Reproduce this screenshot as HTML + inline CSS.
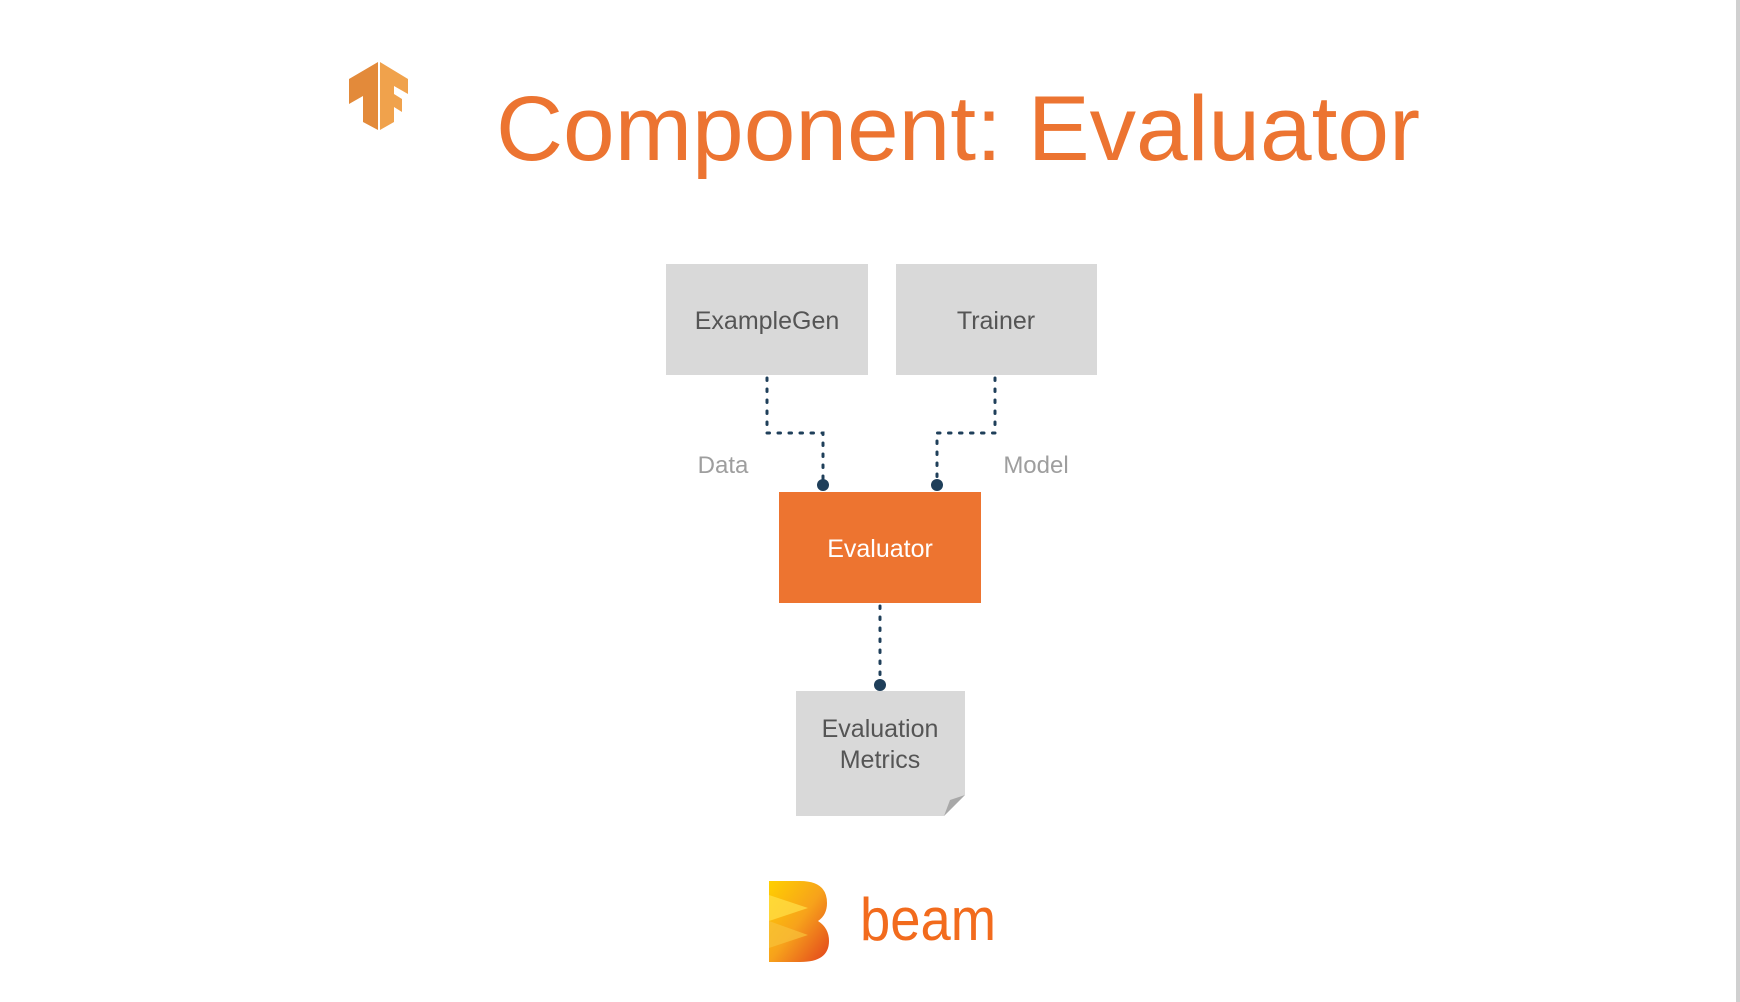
<!DOCTYPE html>
<html><head><meta charset="utf-8"><style>
html,body{margin:0;padding:0;background:#fff;}
svg{display:block;}
</style></head><body>
<svg width="1740" height="1002" viewBox="0 0 1740 1002" xmlns="http://www.w3.org/2000/svg">
<defs>
<linearGradient id="bm" x1="0" y1="0" x2="1" y2="1"><stop offset="0" stop-color="#ffd000"/><stop offset="0.5" stop-color="#f7a21b"/><stop offset="1" stop-color="#e2421d"/></linearGradient>
</defs>
<rect x="1736" y="0" width="4" height="1002" fill="#d0d0d0"/>
<g>
<polygon points="378,62 349,79 349,104 363,96 363,122 378,130" fill="#e38a3a"/>
<polygon points="380,62 408,79 408,94 394,86 394,94 402,99 402,112 394,107 394,122 380,130" fill="#f0a24c"/>
</g>
<text x="496" y="160" font-family="Liberation Sans, sans-serif" font-size="92" fill="#ec7431" textLength="924" lengthAdjust="spacingAndGlyphs">Component: Evaluator</text>
<rect x="666" y="264" width="202" height="111" fill="#d9d9d9"/>
<rect x="896" y="264" width="201" height="111" fill="#d9d9d9"/>
<rect x="779" y="492" width="202" height="111" fill="#ed7430"/>
<polygon points="796,691 965,691 965,795 944,816 796,816" fill="#d9d9d9"/>
<polygon points="965,795 944,816 950,800" fill="#a8a8a8"/>
<g font-family="Liberation Sans, sans-serif" font-size="25" text-anchor="middle" fill="#555">
<text x="767" y="329">ExampleGen</text>
<text x="996" y="329">Trainer</text>
<text x="880" y="557" fill="#fff">Evaluator</text>
<text x="880" y="737">Evaluation</text>
<text x="880" y="768">Metrics</text>
</g>
<g font-family="Liberation Sans, sans-serif" font-size="24" text-anchor="middle" fill="#9e9e9e">
<text x="723" y="473">Data</text>
<text x="1036" y="473">Model</text>
</g>
<g stroke="#1f3f5a" stroke-width="3" fill="none" stroke-dasharray="2.5 8.5" stroke-linecap="round">
<polyline points="767,378 767,433 823,433 823,482"/>
<polyline points="995,378 995,433 937,433 937,482"/>
<line x1="880" y1="606" x2="880" y2="680"/>
</g>
<g fill="#1f3f5a">
<circle cx="823" cy="485" r="6"/>
<circle cx="937" cy="485" r="6"/>
<circle cx="880" cy="685" r="6"/>
</g>
<path d="M769,881 L800,881 Q827,881 827,903 Q827,915 818,921 Q829,928 829,941 Q829,962 800,962 L769,962 Z" fill="url(#bm)"/>
<polygon points="769,895 808,908 769,921" fill="#ffe14a" opacity="0.7"/>
<polygon points="769,921 808,935 769,948" fill="#f8c23a" opacity="0.7"/>
<text x="860" y="940" font-family="Liberation Sans, sans-serif" font-size="60" fill="#f26b1d" textLength="136" lengthAdjust="spacingAndGlyphs">beam</text>
</svg>
</body></html>
